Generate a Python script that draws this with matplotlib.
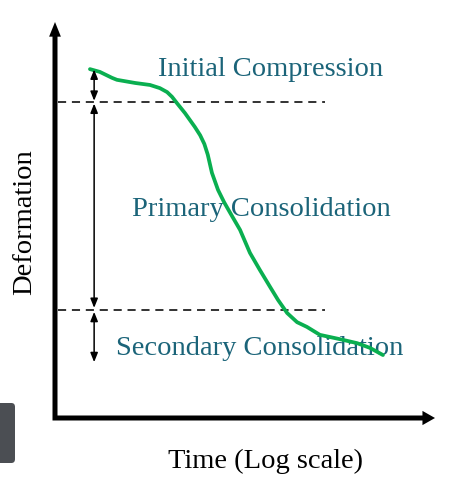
import matplotlib
matplotlib.use("Agg")
import matplotlib.pyplot as plt
from matplotlib.patches import FancyBboxPatch

# ---- data (normalised units: time 0..100, deformation 0..100) ----
time_vals = [9.2, 11.8, 15.0, 16.3, 21.1, 25.0, 27.6, 29.5, 30.8, 32.1, 34.2,
             36.8, 38.2, 39.3, 40.2, 41.3, 42.9, 44.5, 46.1, 48.7, 51.3, 53.9, 56.6,
             58.7, 61.1, 63.7, 66.3, 69.7, 75.0, 79.5, 82.9, 86.3]
deform_vals = [88.1, 87.4, 85.9, 85.4, 84.6, 84.1, 83.3, 82.3, 81.1, 79.5, 77.0,
               73.5, 71.4, 69.2, 66.5, 61.9, 57.6, 54.5, 51.8, 47.5, 41.7, 37.4, 33.1,
               29.8, 26.5, 24.2, 23.0, 21.0, 19.9, 18.9, 17.7, 15.9]
stage_bounds = [79.8, 27.3]          # dashed boundaries
stage_labels = ["Initial Compression", "Primary Consolidation", "Secondary Consolidation"]
label_pos_x = [56.8, 54.2, 53.9]
label_pos_y = [88.1, 52.6, 17.5]
arrow_spans = [(88.0, 80.1), (79.4, 27.8), (26.8, 14.1)]
arrow_x = 10.3
xlabel = "Time (Log scale)"
ylabel = "Deformation"

W, H = 455, 484
fig = plt.figure(figsize=(W / 100, H / 100), dpi=100)
fig.patch.set_facecolor("white")

# axes region in pixels: x 55..435, y 22..418
ax = fig.add_axes([55 / W, (H - 418) / H, (435 - 55) / W, (418 - 22) / H])
ax.set_xlim(0, 100)
ax.set_ylim(0, 100)
ax.axis("off")

serif = ["Liberation Serif", "DejaVu Serif"]
teal = "#1b6479"
fs = 20.5

# axis lines (single corner) + filled arrow heads
ax.plot([0, 0, 97.5], [97.0, 0, 0], color="black", lw=3.6,
        solid_joinstyle="miter", solid_capstyle="butt", clip_on=False, snap=False)
ax.fill([-1.55, 0, 1.55], [96.3, 100, 96.3], color="black", lw=0, clip_on=False)
ax.fill([96.7, 100, 96.7], [1.8, 0, -1.8], color="black", lw=0, clip_on=False)

# dashed stage boundaries
for yb in stage_bounds:
    ax.plot([0.8, 71.1], [yb, yb], color="#222222", lw=1.3, ls=(0, (4.5, 3.2)))

# stage labels
for lab, lx, ly in zip(stage_labels, label_pos_x, label_pos_y):
    ax.text(lx, ly, lab, ha="center", va="center", color=teal,
            fontsize=fs, family=serif, zorder=2)

# curve
ax.plot(time_vals, deform_vals, color="#0aaf50", lw=2.7, zorder=3,
        solid_capstyle="round", solid_joinstyle="round")

# double-headed arrows
for y0, y1 in arrow_spans:
    ax.annotate("", xy=(arrow_x, y1), xytext=(arrow_x, y0),
                arrowprops=dict(arrowstyle="<|-|>,head_length=0.55,head_width=0.22",
                                lw=1.1, color="black", shrinkA=0, shrinkB=0))

# axis labels
fig.text(265 / W, 1 - 461 / H, xlabel, ha="center", va="center",
         fontsize=fs, family=serif, color="black")
fig.text(25 / W, 1 - 222 / H, ylabel, ha="center", va="center", rotation=90,
         fontsize=fs, family=serif, color="black")

# grey tab at left edge
tab = FancyBboxPatch((-8 / W, 1 - 463 / H), 23 / W, 60 / H,
                     boxstyle="round,pad=0,rounding_size=0.008",
                     transform=fig.transFigure, facecolor="#4b4e53",
                     edgecolor="none")
fig.patches.append(tab)

fig.savefig("out.png", dpi=100)
